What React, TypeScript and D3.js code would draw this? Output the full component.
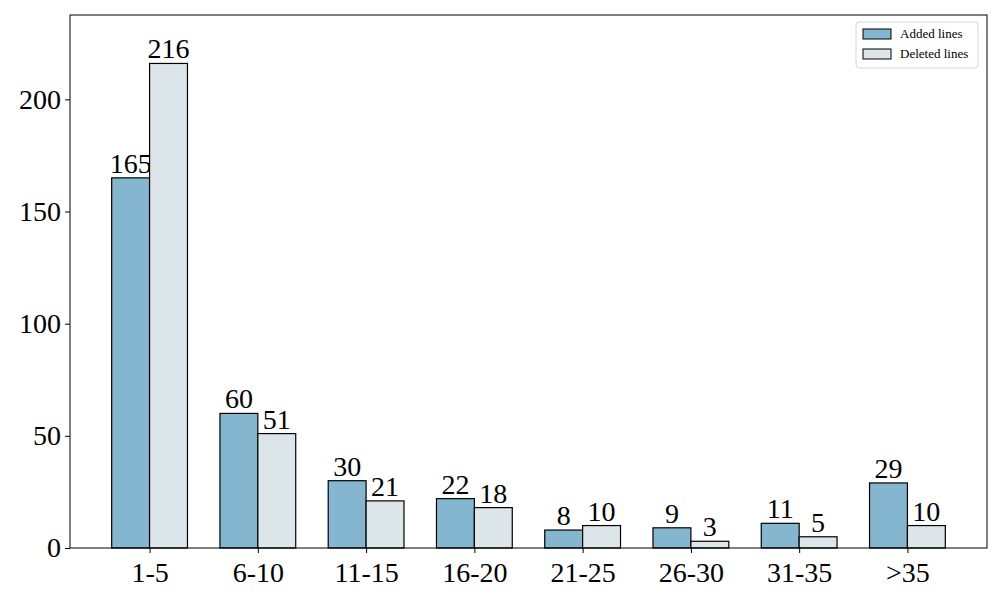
import { useEffect, useRef } from 'react';
import * as d3 from 'd3';

const categories = ['1-5', '6-10', '11-15', '16-20', '21-25', '26-30', '31-35', '>35'];
const addedLines = [165, 60, 30, 22, 8, 9, 11, 29];
const deletedLines = [216, 51, 21, 18, 10, 3, 5, 10];
const yTicks = [0, 50, 100, 150, 200];
const seriesNames = ['Added lines', 'Deleted lines'];
const seriesColors = ['#84b6cf', '#dbe5ea'];

const W = 1000;
const H = 600;
const margin = { top: 15, right: 13, bottom: 52, left: 70 };
const FONT = '"Liberation Serif", "Times New Roman", serif';

const App = () => {
    const ref = useRef<SVGSVGElement>(null);

    useEffect(() => {
        const svg = d3.select(ref.current);
        svg.selectAll('*').remove();

        const barW = 0.35;
        const x = d3.scaleLinear()
            .domain([-0.735, categories.length - 1 + 0.735])
            .range([margin.left, W - margin.right]);

        const yMax = d3.max([...addedLines, ...deletedLines]) * 1.1;
        const y = d3.scaleLinear()
            .domain([0, yMax])
            .range([H - margin.bottom, margin.top]);

        const series = [addedLines, deletedLines];
        series.forEach((vals, s) => {
            const off = s === 0 ? -barW : 0;
            const g = svg.append('g');
            g.selectAll('rect')
                .data(vals)
                .enter()
                .append('rect')
                .attr('x', (d, i) => x(i + off))
                .attr('y', d => y(d))
                .attr('width', x(barW) - x(0))
                .attr('height', d => y(0) - y(d))
                .attr('fill', seriesColors[s])
                .attr('stroke', '#000')
                .attr('stroke-width', 1.2);
            g.selectAll('text')
                .data(vals)
                .enter()
                .append('text')
                .attr('x', (d, i) => x(i + off + barW / 2))
                .attr('y', d => y(d) - 5)
                .attr('text-anchor', 'middle')
                .attr('font-family', FONT)
                .attr('font-size', 28)
                .text(d => d);
        });

        // axes
        const xAxis = svg.append('g')
            .attr('transform', `translate(0,${H - margin.bottom})`)
            .call(d3.axisBottom(x)
                .tickValues(d3.range(categories.length))
                .tickFormat((d: any) => categories[d])
                .tickSize(5)
                .tickSizeOuter(0));
        const yAxis = svg.append('g')
            .attr('transform', `translate(${margin.left},0)`)
            .call(d3.axisLeft(y).tickValues(yTicks).tickSize(5).tickSizeOuter(0));

        [xAxis, yAxis].forEach(a => {
            a.select('.domain').remove();
            a.selectAll('line').attr('stroke', '#000').attr('stroke-width', 1);
            a.selectAll('text')
                .attr('font-family', FONT)
                .attr('font-size', 28)
                .attr('fill', '#000');
        });
        xAxis.selectAll('text').attr('dy', '0.95em').attr('y', 7);
        yAxis.selectAll('text').attr('x', -9);

        svg.append('rect')
            .attr('x', margin.left)
            .attr('y', margin.top)
            .attr('width', W - margin.left - margin.right)
            .attr('height', H - margin.top - margin.bottom)
            .attr('fill', 'none')
            .attr('stroke', '#000')
            .attr('stroke-width', 1);

        // legend
        const lg = svg.append('g').attr('transform', 'translate(856,22)');
        lg.append('rect')
            .attr('width', 122)
            .attr('height', 46)
            .attr('rx', 3)
            .attr('fill', '#fff')
            .attr('fill-opacity', 0.8)
            .attr('stroke', '#d6d6d6');
        seriesNames.forEach((name, i) => {
            lg.append('rect')
                .attr('x', 7)
                .attr('y', 7 + i * 20)
                .attr('width', 28)
                .attr('height', 10)
                .attr('fill', seriesColors[i])
                .attr('stroke', '#000');
            lg.append('text')
                .attr('x', 44)
                .attr('y', 16 + i * 20)
                .attr('font-family', FONT)
                .attr('font-size', 13)
                .text(name);
        });
    }, []);

    return (
        <svg ref={ref} width={W} height={H}
            style={{ position: 'absolute', left: 0, top: 0, background: '#fff' }} />
    );
};

export default App;
